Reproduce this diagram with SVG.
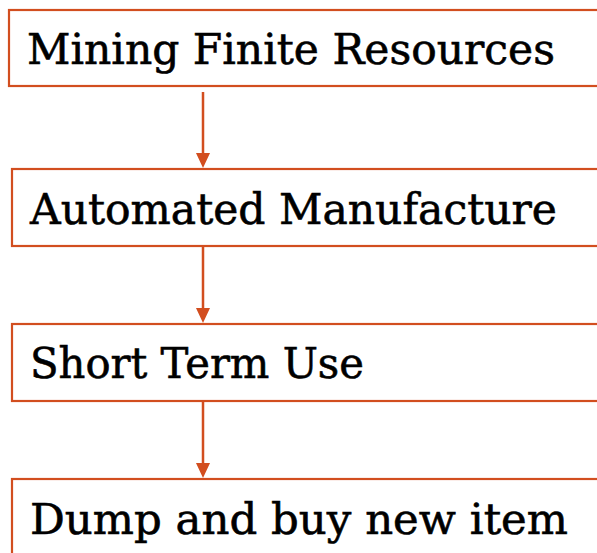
<svg xmlns="http://www.w3.org/2000/svg" width="597" height="553" viewBox="0 0 597 553">
  <style>
    .box { fill: #ffffff; stroke: #D24E1F; stroke-width: 2.2; }
    .label { font-family: "DejaVu Serif", "Liberation Serif", serif; font-size: 43px; fill: #000000; stroke: #000000; stroke-width: 0.6; }
    .conn { stroke: #D24E1F; stroke-width: 2.5; fill: none; }
    .head { fill: #D24E1F; }
  </style>
  <rect width="597" height="553" fill="#ffffff"/>

  <g id="node-mining">
    <rect class="box" x="9" y="10" width="600" height="76"/>
    <text class="label" x="27" y="64" textLength="528" lengthAdjust="spacingAndGlyphs">Mining Finite Resources</text>
  </g>
  <g id="node-manufacture">
    <rect class="box" x="12" y="169" width="600" height="77"/>
    <text class="label" x="30" y="224" textLength="527" lengthAdjust="spacingAndGlyphs">Automated Manufacture</text>
  </g>
  <g id="node-use">
    <rect class="box" x="12" y="324" width="600" height="77"/>
    <text class="label" x="30" y="378" textLength="334" lengthAdjust="spacingAndGlyphs">Short Term Use</text>
  </g>
  <g id="node-dump">
    <rect class="box" x="12" y="479" width="600" height="90"/>
    <text class="label" x="30" y="534" textLength="538" lengthAdjust="spacingAndGlyphs">Dump and buy new item</text>
  </g>

  <g id="connectors">
    <line class="conn" x1="203" y1="92" x2="203" y2="154"/>
    <path class="head" d="M196,153 L210,153 L203,168 Z"/>
    <line class="conn" x1="203" y1="247" x2="203" y2="309"/>
    <path class="head" d="M196,308 L210,308 L203,323 Z"/>
    <line class="conn" x1="203" y1="402" x2="203" y2="464"/>
    <path class="head" d="M196,463 L210,463 L203,478 Z"/>
  </g>
</svg>
